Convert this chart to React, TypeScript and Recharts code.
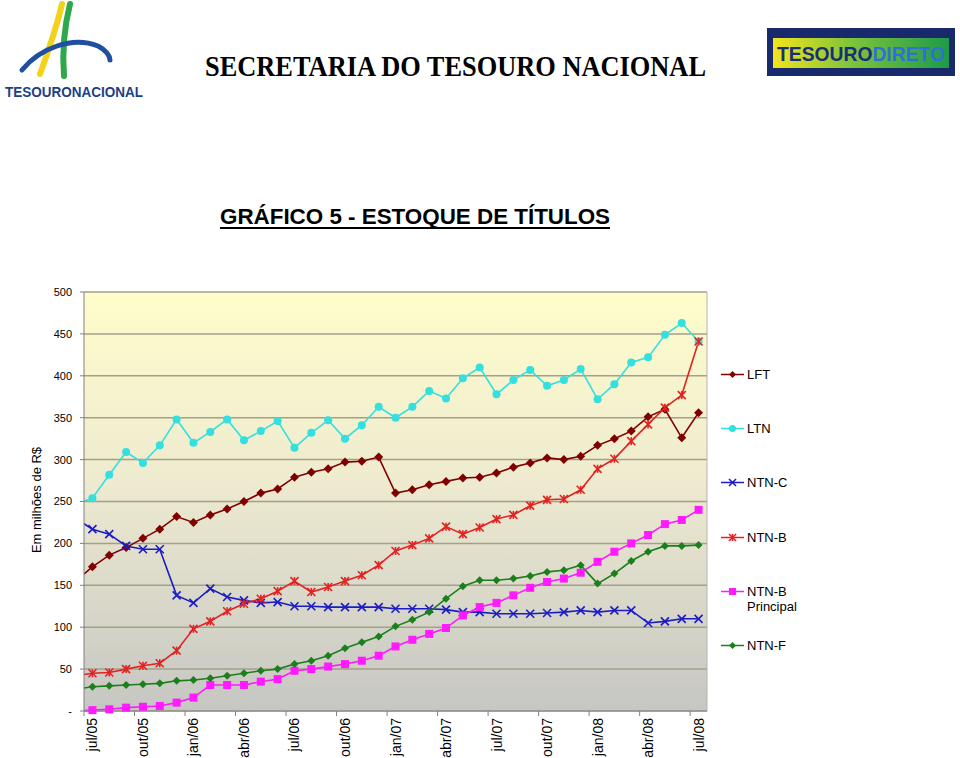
import React from 'react';
import { LineChart, Line, XAxis, YAxis, CartesianGrid, Legend, ReferenceLine } from 'recharts';

// jun/05 only feeds the short line stubs at the left edge of the plot
const months = [
  'jun/05', 'jul/05', 'ago/05', 'set/05', 'out/05', 'nov/05', 'dez/05',
  'jan/06', 'fev/06', 'mar/06', 'abr/06', 'mai/06', 'jun/06', 'jul/06', 'ago/06', 'set/06', 'out/06', 'nov/06', 'dez/06',
  'jan/07', 'fev/07', 'mar/07', 'abr/07', 'mai/07', 'jun/07', 'jul/07', 'ago/07', 'set/07', 'out/07', 'nov/07', 'dez/07',
  'jan/08', 'fev/08', 'mar/08', 'abr/08', 'mai/08', 'jun/08', 'jul/08',
];

const lft = [155, 172, 186, 195, 206, 217, 232, 225, 234, 241, 250, 260, 265, 279, 285, 289, 297, 298, 303, 260, 264, 270, 274, 278, 279, 284, 291, 296, 302, 300, 304, 317, 325, 334, 351, 360, 326, 356];
const ltn = [247, 254, 282, 309, 296, 317, 348, 320, 333, 348, 323, 334, 346, 314, 332, 347, 325, 341, 363, 350, 363, 382, 373, 397, 410, 378, 395, 407, 388, 395, 408, 372, 390, 416, 422, 449, 463, 441];
const ntnC = [230, 217, 211, 197, 193, 193, 138, 129, 146, 136, 132, 129, 130, 125, 125, 124, 124, 124, 124, 122, 122, 122, 121, 118, 118, 116, 116, 116, 117, 118, 120, 118, 120, 120, 105, 107, 110, 110];
const ntnB = [42, 45, 46, 50, 54, 57, 72, 98, 107, 119, 128, 134, 143, 155, 142, 148, 155, 162, 174, 191, 198, 206, 220, 211, 219, 229, 234, 245, 252, 253, 264, 289, 301, 322, 342, 362, 377, 441];
const ntnBPrincipal = [0, 1, 2, 4, 5, 6, 10, 16, 31, 31, 31, 35, 38, 48, 50, 53, 56, 60, 66, 77, 85, 92, 99, 114, 124, 129, 138, 147, 154, 158, 165, 178, 190, 200, 210, 223, 228, 240];
const ntnF = [26, 29, 30, 31, 32, 33, 36, 37, 39, 42, 45, 48, 50, 56, 60, 66, 75, 82, 89, 101, 109, 118, 134, 149, 156, 156, 158, 161, 166, 168, 174, 152, 164, 179, 190, 197, 197, 198];

const yTicks = [0, 50, 100, 150, 200, 250, 300, 350, 400, 450, 500];
const xTicks = [0, 3, 6, 9, 12, 15, 18, 21, 24, 27, 30, 33, 36];

const data = months.map((m, i) => ({
  x: i - 1,
  month: m,
  lft: lft[i],
  ltn: ltn[i],
  ntnC: ntnC[i],
  ntnB: ntnB[i],
  ntnBP: ntnBPrincipal[i],
  ntnF: ntnF[i],
}));

const PLOT = { left: 84, right: 707, top: 292, bottom: 711 };
const HALF_BAND = (PLOT.right - PLOT.left) / 37 / 2;
const FONT = '"Liberation Sans", Arial, sans-serif';

type Shape = 'diamond' | 'circle' | 'x' | 'star' | 'square';

const series: { key: string; name: string; color: string; shape: Shape; size: number }[] = [
  { key: 'lft', name: 'LFT', color: '#800000', shape: 'diamond', size: 4.5 },
  { key: 'ltn', name: 'LTN', color: '#33dfdf', shape: 'circle', size: 4 },
  { key: 'ntnC', name: 'NTN-C', color: '#1c1cc4', shape: 'x', size: 4 },
  { key: 'ntnB', name: 'NTN-B', color: '#e32222', shape: 'star', size: 4 },
  { key: 'ntnBP', name: 'NTN-B Principal', color: '#ff1aff', shape: 'square', size: 4 },
  { key: 'ntnF', name: 'NTN-F', color: '#1b7f1b', shape: 'diamond', size: 4 },
];

function Marker({ cx, cy, shape, color, size }: { cx: number; cy: number; shape: Shape; color: string; size: number }) {
  if (cx == null || cy == null) return null;
  const s = size;
  if (shape === 'diamond') {
    return <polygon points={`${cx},${cy - s} ${cx + s},${cy} ${cx},${cy + s} ${cx - s},${cy}`} fill={color} />;
  }
  if (shape === 'circle') return <circle cx={cx} cy={cy} r={s} fill={color} />;
  if (shape === 'square') return <rect x={cx - s} y={cy - s} width={2 * s} height={2 * s} fill={color} />;
  const cross = (
    <>
      <line x1={cx - s} y1={cy - s} x2={cx + s} y2={cy + s} stroke={color} strokeWidth={1.6} />
      <line x1={cx - s} y1={cy + s} x2={cx + s} y2={cy - s} stroke={color} strokeWidth={1.6} />
    </>
  );
  if (shape === 'x') return <g>{cross}</g>;
  return (
    <g>
      {cross}
      <line x1={cx} y1={cy - s} x2={cx} y2={cy + s} stroke={color} strokeWidth={1.6} />
    </g>
  );
}

const MonthTick = (props: any) => {
  const { x, payload } = props;
  return (
    <g>
      <line x1={x - HALF_BAND} x2={x - HALF_BAND} y1={PLOT.bottom} y2={PLOT.bottom + 5} stroke="#808080" />
      <text
        transform={`translate(${x + 5},${PLOT.bottom + 7}) rotate(-90)`}
        textAnchor="end"
        fontSize={14}
        fontFamily={FONT}
        fill="#000"
      >
        {months[payload.value + 1]}
      </text>
    </g>
  );
};

const LegendBox = () => (
  <div style={{ fontFamily: FONT, fontSize: 13, color: '#000' }}>
    {series.map((s) => (
      <div key={s.key} style={{ display: 'flex', alignItems: 'flex-start', height: 54.4 }}>
        <svg width={27} height={15} style={{ flex: 'none' }}>
          <line x1={1} x2={24} y1={7.5} y2={7.5} stroke={s.color} strokeWidth={1.5} />
          <Marker cx={12.5} cy={7.5} shape={s.shape} color={s.color} size={3.5} />
        </svg>
        <div style={{ lineHeight: '15px', width: 62 }}>{s.name}</div>
      </div>
    ))}
  </div>
);

function Header() {
  return (
    <svg width={960} height={758} style={{ position: 'absolute', left: 0, top: 0 }}>
      {/* left logo */}
      <path d="M62 4 C 56 30, 48 52, 40 74" stroke="#f2d21b" strokeWidth={6} fill="none" strokeLinecap="round" />
      <path d="M70 4 C 64 28, 62 50, 64 76" stroke="#2ea84a" strokeWidth={6} fill="none" strokeLinecap="round" />
      <path d="M22 70 C 40 48, 72 36, 98 46 C 106 50, 110 56, 110 60" stroke="#1f4fa0" strokeWidth={5} fill="none" strokeLinecap="round" />
      <text x={5} y={97} fontFamily={FONT} fontWeight="bold" fontSize={14} fill="#1c3f86" textLength={138} lengthAdjust="spacingAndGlyphs">
        TESOURONACIONAL
      </text>
      {/* right logo */}
      <defs>
        <linearGradient id="logoBand" x1="0" y1="0" x2="1" y2="0">
          <stop offset="0%" stopColor="#f3e41c" />
          <stop offset="45%" stopColor="#7cc43a" />
          <stop offset="100%" stopColor="#1f9a4a" />
        </linearGradient>
      </defs>
      <rect x={767} y={28} width={188} height={48} fill="#182a6c" />
      <rect x={773} y={38} width={176} height={30} fill="url(#logoBand)" />
      <text x={777} y={61} fontFamily={FONT} fontWeight="bold" fontSize={20} fill="#1b2d78" textLength={168} lengthAdjust="spacingAndGlyphs">
        TESOURO<tspan fill="#2f6fd8">DIRETO</tspan>
      </text>
      {/* titles */}
      <text x={205} y={76} fontFamily='"Liberation Serif", "Times New Roman", serif' fontWeight="bold" fontSize={29} fill="#000" textLength={501} lengthAdjust="spacingAndGlyphs">
        SECRETARIA DO TESOURO NACIONAL
      </text>
      <text x={220} y={224} fontFamily={FONT} fontWeight="bold" fontSize={22} fill="#000" textLength={390} lengthAdjust="spacingAndGlyphs">
        GRÁFICO 5 - ESTOQUE DE TÍTULOS
      </text>
      <line x1={220} x2={610} y1={228} y2={228} stroke="#000" strokeWidth={2} />
      {/* y axis title */}
      <text transform="translate(41,500) rotate(-90)" textAnchor="middle" fontFamily={FONT} fontSize={13} fill="#000">
        Em milhões de R$
      </text>
    </svg>
  );
}

export default function App() {
  return (
    <div style={{ position: 'absolute', left: 0, top: 0, width: 960, height: 758, background: '#fff' }}>
      <Header />
      <div style={{ position: 'absolute', left: 0, top: 0 }}>
        <LineChart
          width={960}
          height={758}
          data={data}
          margin={{ top: PLOT.top, right: 960 - PLOT.right, left: PLOT.left - 40, bottom: 0 }}
        >
          <defs>
            <linearGradient id="plotBg" x1="0" y1="0" x2="0" y2="1">
              <stop offset="0%" stopColor="#fffdcb" />
              <stop offset="45%" stopColor="#eeebd0" />
              <stop offset="100%" stopColor="#c6c6c3" />
            </linearGradient>
          </defs>
          <CartesianGrid vertical={false} stroke="#a39f88" strokeWidth={1.5} fill="url(#plotBg)" fillOpacity={1} />
          <XAxis
            dataKey="x"
            type="number"
            domain={[-0.5, 36.5]}
            allowDataOverflow
            ticks={xTicks}
            interval={0}
            height={758 - PLOT.bottom}
            tick={<MonthTick />}
            tickLine={false}
            axisLine={{ stroke: '#8a8a8a' }}
          />
          <YAxis
            width={40}
            domain={[0, 500]}
            ticks={yTicks}
            interval={0}
            tickFormatter={(v: number) => (v === 0 ? '-' : String(v))}
            tick={{ fontSize: 11, fill: '#000', fontFamily: FONT }}
            tickSize={4}
            tickMargin={8}
            tickLine={{ stroke: '#808080' }}
            axisLine={{ stroke: '#808080' }}
          />
          <ReferenceLine x={36.5} stroke="#b4b4ae" />
          <Legend
            layout="horizontal"
            verticalAlign="middle"
            align="center"
            content={<LegendBox />}
            wrapperStyle={{ left: 720, top: 366.5, width: 200, height: 'auto' }}
          />
          {series.map((s) => (
            <Line
              key={s.key}
              type="linear"
              dataKey={s.key}
              name={s.name}
              stroke={s.color}
              strokeWidth={1.6}
              isAnimationActive={false}
              activeDot={false}
              dot={(p: any) => <Marker key={`${s.key}-${p.index}`} cx={p.cx} cy={p.cy} shape={s.shape} color={s.color} size={s.size} />}
            />
          ))}
        </LineChart>
      </div>
    </div>
  );
}
